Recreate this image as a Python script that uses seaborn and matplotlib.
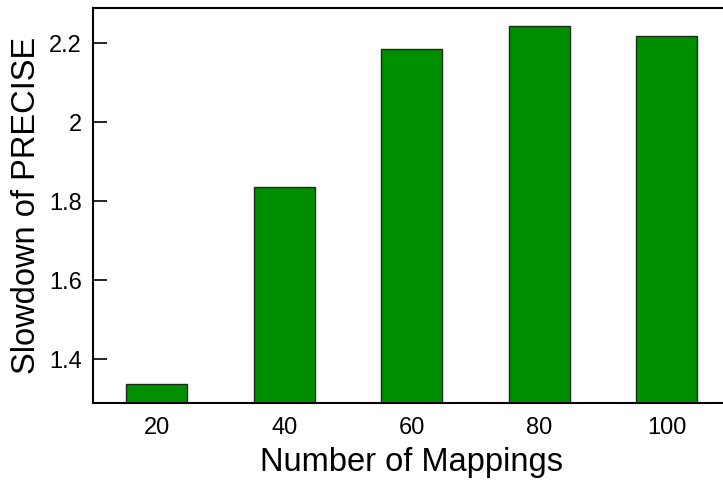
import matplotlib
matplotlib.use("Agg")
import matplotlib.pyplot as plt
import pandas as pd
import seaborn as sns

mappings = ["20", "40", "60", "80", "100"]
slowdown = [1.337, 1.836, 2.186, 2.243, 2.218]

df = pd.DataFrame({"mappings": mappings, "slowdown": slowdown})

sns.set_style("white")
plt.rcParams["font.family"] = ["Liberation Sans", "DejaVu Sans"]
plt.rcParams["text.color"] = "black"
plt.rcParams["axes.labelcolor"] = "black"
plt.rcParams["xtick.color"] = "black"
plt.rcParams["ytick.color"] = "black"

fig = plt.figure(figsize=(7.23, 4.86), dpi=100)
ax = fig.add_axes([0.1286, 0.1708, 0.8817, 0.8128])

sns.barplot(data=df, x="mappings", y="slowdown", color="#008f00",
            saturation=1, width=0.48, edgecolor="#1a2a1a", linewidth=1, ax=ax)

ax.set_xlim(-0.5, 4.5)
ax.set_ylim(1.289, 2.289)
ax.set_yticks([1.4, 1.6, 1.8, 2.0, 2.2])
ax.set_yticklabels(["1.4", "1.6", "1.8", "2", "2.2"])
ax.tick_params(axis="y", direction="in", length=10, width=1.2, labelsize=17, left=True, pad=8)
ax.tick_params(axis="x", length=0, labelsize=17, pad=10)
ax.set_xlabel("Number of Mappings", fontsize=23.5, labelpad=6)
ax.set_ylabel("Slowdown of PRECISE", fontsize=23.5, labelpad=5)

for side in ["left", "top", "bottom"]:
    ax.spines[side].set_linewidth(1.5)
    ax.spines[side].set_color("black")
ax.spines["right"].set_visible(False)

fig.savefig("out.png", dpi=100)
